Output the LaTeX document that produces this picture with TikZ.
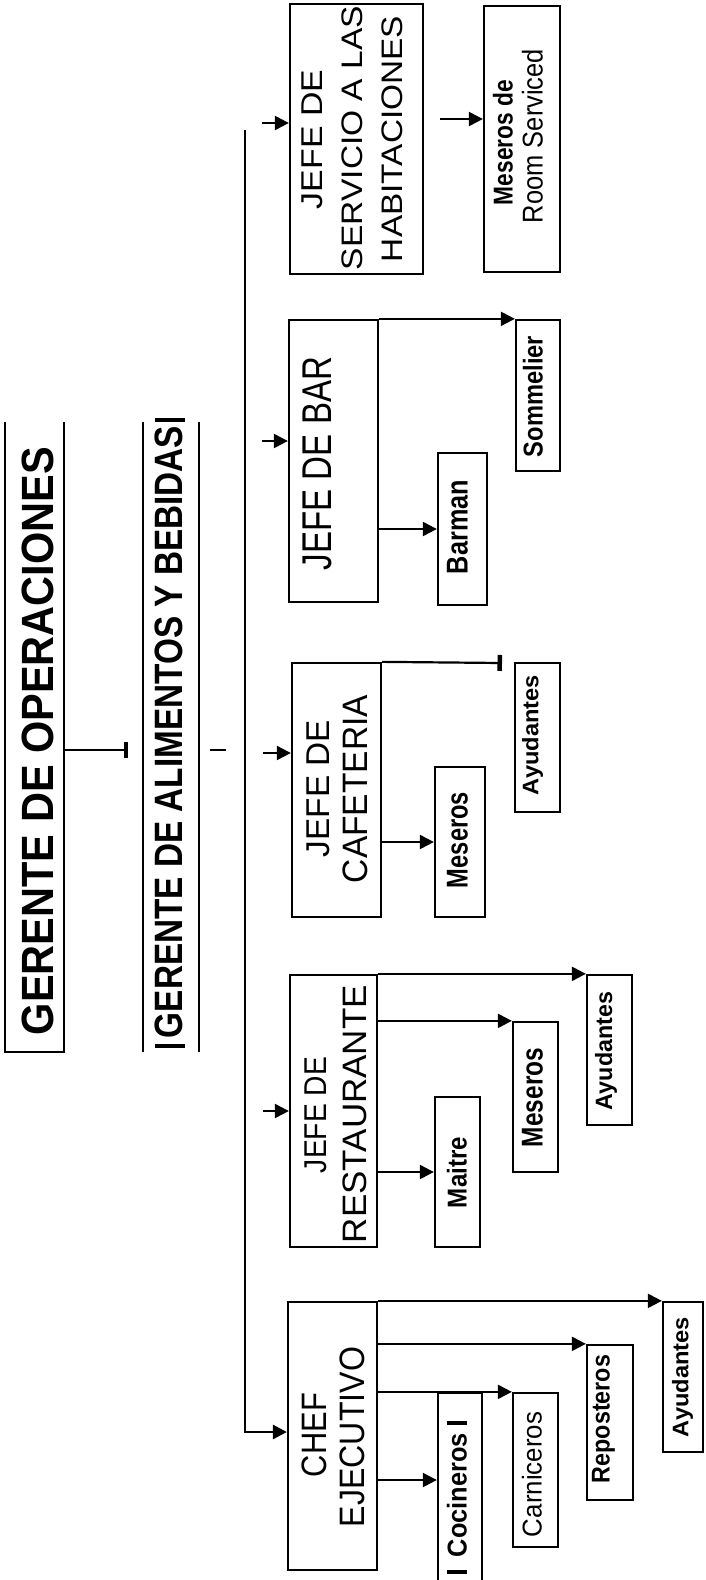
\documentclass[tikz,border=0pt]{standalone}
\usepackage{fontspec}
\setmainfont{Liberation Sans}
\usetikzlibrary{arrows.meta}
% box: style, x1, y1, x2, y2, name
\newcommand\bx[6]{\node[#1, minimum width={#4-#2}, minimum height={#5-#3}] (#6) at ({(#2+#4)/2},{(#3+#5)/2}) {};}
% text: name, cx, cy, length, thickness, font, text
\newcommand\tx[7]{\node[lbl] (#1) at (#2,#3) {\resizebox*{#4pt}{#5pt}{#6#7}};}
\begin{document}
\begin{tikzpicture}[x=1pt,y=-1pt,
  box/.style={draw, line width=2.3pt, inner sep=0pt},
  ghost/.style={inner sep=0pt},
  lbl/.style={rotate=90, inner sep=0pt},
  conn/.style={line width=2.3pt},
  busline/.style={line width=2.8pt},
  arr/.style={line width=2.2pt, -{Triangle[length=14pt,width=14pt]}},
  tickend/.style={line width=2.2pt, -{Bar[width=16pt,line width=4.5pt]}},
  barmark/.style={line width=4pt}]
\useasboundingbox (0,0) rectangle (705,1580);
\fill[white] (0,0) rectangle (705,1580);
\clip (0,0) rectangle (705,1580);

% ---------- boxes ----------
\bx{ghost}{5}{422}{64}{1052}{go}
\bx{ghost}{143}{422}{199}{1052}{gab}
\bx{box}{290}{4}{423}{274}{jsh}
\bx{box}{484}{6}{560}{272}{mrs}
\bx{box}{289}{320}{378}{602}{jb}
\bx{box}{516}{320}{560}{471}{som}
\bx{box}{438}{453}{487}{605}{barm}
\bx{box}{292}{663}{381}{917}{jc}
\bx{box}{435}{767}{485}{917}{mesa}
\bx{box}{515}{663}{560}{812}{aya}
\bx{box}{290}{975}{377}{1247}{jr}
\bx{box}{435}{1097}{480}{1247}{mai}
\bx{box}{513}{1022}{558}{1172}{mesb}
\bx{box}{587}{975}{632}{1125}{ayb}
\bx{box}{288}{1302}{377}{1570}{chef}
\bx{box}{438}{1393}{482}{1620}{coc}
\bx{box}{513}{1393}{558}{1547}{car}
\bx{box}{587}{1345}{633}{1500}{rep}
\bx{box}{663}{1302}{703}{1452}{ayc}

% open outlines of the two top boxes
\draw[conn] (go.north west) -- (go.south west) -- (go.south east) -- (go.north east);
\draw[conn] (gab.north west) -- (gab.south west);
\draw[conn] (gab.north east) -- (gab.south east);
\draw[barmark] (155,420) -- (185,420);
\draw[barmark] (155,1046) -- (185,1046);

% ---------- texts ----------
\tx{got}{37.5}{741}{588}{32}{\bfseries}{GERENTE DE OPERACIONES}
\tx{gabt}{168.5}{732}{612}{28}{\bfseries}{GERENTE DE ALIMENTOS Y BEBIDAS}
\tx{jsha}{312.5}{139.5}{139}{21}{}{JEFE DE}
\tx{jshb}{352.5}{138}{264}{21}{}{SERVICIO A LAS}
\tx{jshc}{392.5}{139}{246}{21}{}{HABITACIONES}
\tx{mrsa}{503}{142.5}{125}{20}{\bfseries}{Meseros de}
\tx{mrsb}{532.5}{136}{174}{21}{}{Room Serviced}
\tx{jbt}{317.5}{463.5}{213}{29}{}{JEFE DE BAR}
\tx{somt}{533}{396.5}{121}{20}{\bfseries}{Sommelier}
\tx{bart}{457.5}{527}{94}{21}{\bfseries}{Barman}
\tx{jca}{318.5}{788.5}{137}{23}{}{JEFE DE}
\tx{jcb}{355.5}{789}{188}{25}{}{CAFETERIA}
\tx{mesat}{457.5}{840}{96}{21}{\bfseries}{Meseros}
\tx{ayat}{532.5}{735}{120}{21}{\bfseries}{Ayudantes}
\tx{jra}{316}{1115}{116}{22}{}{JEFE DE}
\tx{jrb}{355}{1114}{258}{24}{}{RESTAURANTE}
\tx{mait}{457}{1172.5}{71}{20}{\bfseries}{Maitre}
\tx{mesbt}{532.5}{1097.5}{99}{21}{\bfseries}{Meseros}
\tx{aybt}{606}{1051}{118}{22}{\bfseries}{Ayudantes}
\tx{chefa}{314.5}{1435}{84}{25}{}{CHEF}
\tx{chefb}{352.5}{1437}{180}{25}{}{EJECUTIVO}
\tx{coct}{457}{1495}{124}{20}{\bfseries}{Cocineros}
\tx{cart}{532}{1474.5}{125}{20}{}{Carniceros}
\tx{rept}{603.5}{1419}{128}{23}{\bfseries}{Reposteros}
\tx{ayct}{682.5}{1377}{120}{21}{\bfseries}{Ayudantes}
\draw[barmark] (447,1423) -- (467,1423);
\draw[barmark] (447,1572) -- (467,1572);

% ---------- connectors ----------
\coordinate (c750) at (0,750);
\coordinate (gtip) at (128,750);
\draw[tickend] (go.east |- c750) -- (gtip);
\coordinate (da) at (210,750);
\coordinate (db) at (226,750);
\draw[conn] (da) -- (db);

\coordinate (bustop) at (245,130);
\coordinate (busbot) at (0,1432);
\draw[busline, -{Triangle[length=14pt,width=14pt]}] (bustop) |- (chef.west |- busbot);

\coordinate (sa) at (262,123);
\coordinate (sb) at (262,441);
\coordinate (sc) at (263,753);
\coordinate (sd) at (263,1111);
\coordinate (se) at (440,119);
\draw[arr] (sa) -- (jsh.west |- sa);
\draw[arr] (sb) -- (jb.west |- sb);
\draw[arr] (sc) -- (jc.west |- sc);
\draw[arr] (sd) -- (jr.west |- sd);
\draw[arr] (se) -- (mrs.west |- se);

\draw[arr] (jb.north east) -- (som.north west);
\draw[arr] (jb.east |- barm.west) -- (barm.west);

\coordinate (ayatip) at (502,663);
\draw[tickend] (jc.north east) -- (ayatip);
\draw[arr] (jc.east |- mesa.west) -- (mesa.west);

\draw[arr] (jr.north east) -- (ayb.north west);
\draw[arr] (jr.east |- mesb.north west) -- (mesb.north west);
\draw[arr] (jr.east |- mai.west) -- (mai.west);

\coordinate (c1480) at (0,1480);
\draw[arr] (chef.north east) -- (ayc.north west);
\draw[arr] (chef.east |- rep.north west) -- (rep.north west);
\draw[arr] (chef.east |- car.north west) -- (car.north west);
\draw[arr] (chef.east |- c1480) -- (coc.west |- c1480);
\end{tikzpicture}
\end{document}
